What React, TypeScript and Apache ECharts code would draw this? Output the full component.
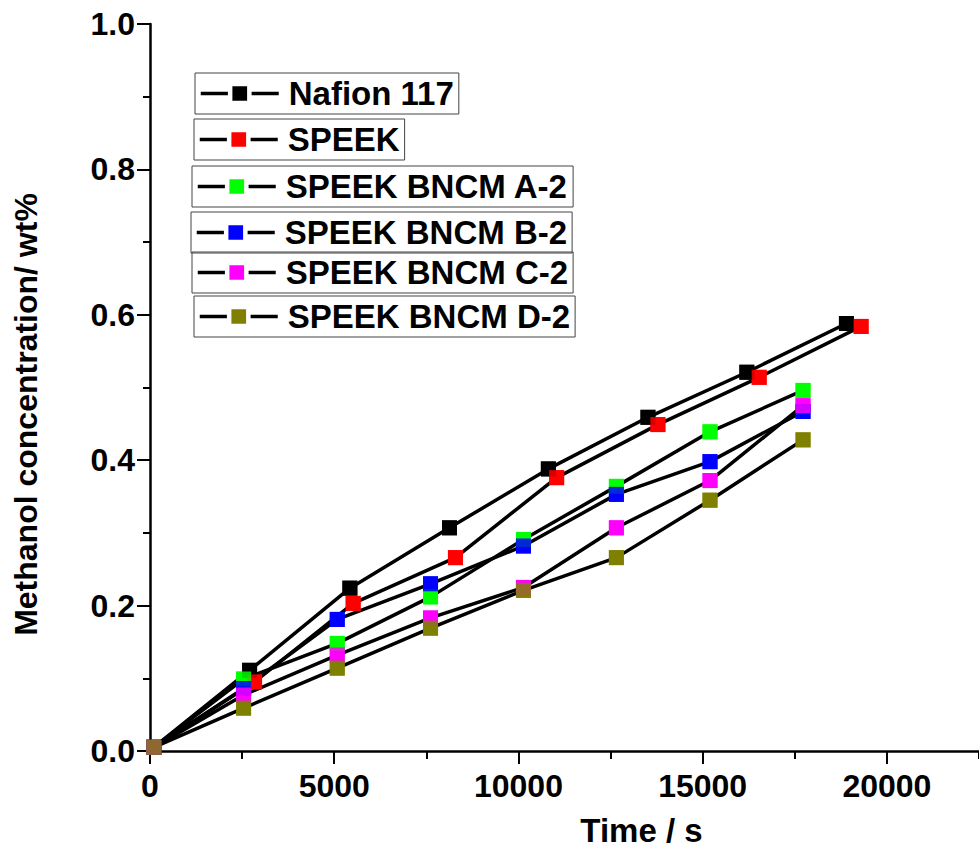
import React, { useEffect, useRef } from "react";
import * as echarts from "echarts";

// ---- data ----
const seriesNames = [
  "Nafion 117",
  "SPEEK",
  "SPEEK BNCM A-2",
  "SPEEK BNCM B-2",
  "SPEEK BNCM C-2",
  "SPEEK BNCM D-2",
];
const markerColors = ["#000000", "#ff0000", "#00ff00", "#0000ff", "#ff00ff", "#808000"];

const nafionTime = [100, 2703, 5425, 8128, 10812, 13515, 16199, 18902];
const nafionConc = [0.005, 0.111, 0.224, 0.307, 0.388, 0.459, 0.521, 0.588];

const speekTime = [100, 2838, 5514, 8290, 11037, 13785, 16534, 19300];
const speekConc = [0.005, 0.095, 0.203, 0.266, 0.376, 0.449, 0.514, 0.584];

const bncmTime = [100, 2540, 5082, 7614, 10136, 12658, 15199, 17724];
const bncmA2Conc = [0.005, 0.099, 0.148, 0.212, 0.291, 0.364, 0.439, 0.496];
const bncmB2Conc = [0.005, 0.086, 0.181, 0.23, 0.282, 0.353, 0.398, 0.467];
const bncmC2Conc = [0.005, 0.077, 0.132, 0.183, 0.225, 0.307, 0.372, 0.475];
const bncmD2Conc = [0.005, 0.059, 0.114, 0.169, 0.221, 0.266, 0.345, 0.428];

const xTitle = "Time / s";
const yTitle = "Methanol concentration/ wt%";

const seriesTimes = [nafionTime, speekTime, bncmTime, bncmTime, bncmTime, bncmTime];
const seriesConcs = [nafionConc, speekConc, bncmA2Conc, bncmB2Conc, bncmC2Conc, bncmD2Conc];

// ---- layout (legend boxes: left, top) ----
const legendBoxPos = [
  [195, 73],
  [194, 119],
  [192, 166],
  [191, 212],
  [192, 252],
  [194, 296],
];

const FONT = "'Liberation Sans', Arial, Helvetica, sans-serif";

export default function App() {
  const ref = useRef<HTMLDivElement>(null);

  useEffect(() => {
    document.body.style.margin = "0";
    const chart = echarts.init(ref.current as HTMLDivElement, null, { renderer: "svg" });

    const lineSeries = seriesNames.map((name, i) => ({
      type: "line",
      name,
      data: seriesTimes[i].map((t, k) => [t, seriesConcs[i][k]]),
      symbol: "rect",
      symbolSize: 15,
      showSymbol: true,
      lineStyle: { color: "#000", width: 3.5 },
      itemStyle: { color: markerColors[i] },
      z: 2,
    }));

    const markerSeries = seriesNames.map((name, i) => ({
      type: "scatter",
      name: name + " markers",
      data: seriesTimes[i].map((t, k) => [t, seriesConcs[i][k]]),
      symbol: "rect",
      symbolSize: 15,
      itemStyle: { color: markerColors[i] },
      z: 3,
    }));

    const legends = seriesNames.map((name, i) => ({
      data: [name],
      left: legendBoxPos[i][0],
      top: legendBoxPos[i][1],
      orient: "horizontal",
      selectedMode: false,
      borderColor: "#444",
      borderWidth: 1,
      padding: [4, 5, 4, 4],
      itemWidth: 78,
      itemHeight: 24,
      itemStyle: { borderColor: "#ffffff", borderWidth: 4.5 },
      lineStyle: { color: "#000", width: 3.5 },
      textStyle: {
        fontFamily: FONT,
        fontWeight: "bold",
        fontSize: 33,
        lineHeight: 33,
        color: "#000",
        padding: [0, 0, 0, 5],
      },
    }));

    const option: any = {
      animation: false,
      backgroundColor: "#ffffff",
      legend: legends,
      grid: { left: 150, top: 24, bottom: 98, right: -3.5, containLabel: false },
      xAxis: [
        {
          type: "value",
          min: 0,
          max: 22500,
          interval: 5000,
          position: "bottom",
          name: xTitle,
          nameLocation: "middle",
          nameGap: 63,
          nameTextStyle: {
            fontFamily: FONT,
            fontWeight: "bold",
            fontSize: 33,
            color: "#000",
            padding: [0, 0, 0, 154],
          },
          axisLine: { show: true, lineStyle: { color: "#000", width: 2.5 } },
          axisTick: { show: true, inside: false, length: 13, lineStyle: { color: "#000", width: 2 } },
          axisLabel: {
            show: true,
            showMaxLabel: false,
            margin: 19,
            fontFamily: FONT,
            fontWeight: "bold",
            fontSize: 32,
            color: "#000",
            formatter: (v: number) => String(v),
          },
          splitLine: { show: false },
        },
        {
          type: "value",
          min: 0,
          max: 22500,
          interval: 2500,
          position: "bottom",
          axisLine: { show: false },
          axisTick: { show: true, inside: false, length: 8, lineStyle: { color: "#000", width: 2 } },
          axisLabel: { show: false },
          splitLine: { show: false },
        },
      ],
      yAxis: {
        type: "value",
        min: 0,
        max: 1.0,
        interval: 0.2,
        name: yTitle,
        nameLocation: "middle",
        nameRotate: 90,
        nameGap: 108,
        nameTextStyle: {
          fontFamily: FONT,
          fontWeight: "bold",
          fontSize: 32,
          color: "#000",
          padding: [0, 54, 0, 0],
        },
        axisLine: { show: true, lineStyle: { color: "#000", width: 2.5 } },
        axisTick: { show: true, inside: false, length: 13, lineStyle: { color: "#000", width: 2 } },
        minorTick: { show: true, splitNumber: 2, length: 7, lineStyle: { color: "#000", width: 2 } },
        axisLabel: {
          margin: 15,
          fontFamily: FONT,
          fontWeight: "bold",
          fontSize: 32,
          color: "#000",
          formatter: (v: number) => v.toFixed(1),
        },
        splitLine: { show: false },
        minorSplitLine: { show: false },
      },
      series: [...lineSeries, ...markerSeries],
    };

    chart.setOption(option);
    return () => chart.dispose();
  }, []);

  return (
    <div
      ref={ref}
      style={{ width: 979, height: 852, position: "absolute", left: 0, top: 0 }}
    />
  );
}
